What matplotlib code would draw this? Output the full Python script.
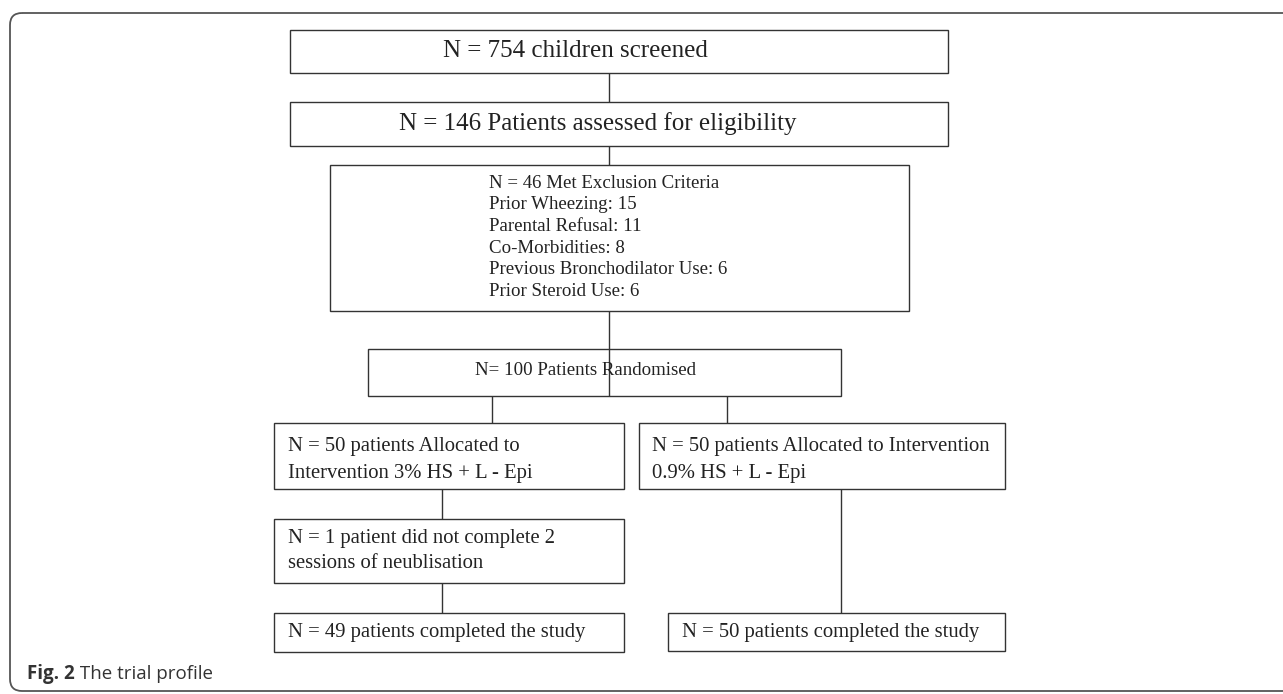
import matplotlib
matplotlib.use("Agg")
import matplotlib.pyplot as plt
from matplotlib.patches import Rectangle, FancyBboxPatch

# ---- data ----
screened = 754
assessed = 146
excluded = 46
exclusion_reasons = ["Prior Wheezing", "Parental Refusal", "Co-Morbidities",
                     "Previous Bronchodilator Use", "Prior Steroid Use"]
exclusion_counts = [15, 11, 8, 6, 6]
randomised = 100
arm_labels = ["3% HS + L - Epi", "0.9% HS + L - Epi"]
arm_allocated = [50, 50]
arm_dropout = [1, 0]
arm_completed = [49, 50]
caption_bold = "Fig. 2"
caption_text = " The trial profile"

W, H = 1283, 694
fig = plt.figure(figsize=(W / 100, H / 100), dpi=100)
ax = fig.add_axes([0, 0, 1, 1])
ax.set_xlim(0, W)
ax.set_ylim(H, 0)
ax.axis("off")

EC = "#333333"
SERIF = "Liberation Serif"

# outer frame
frame = FancyBboxPatch((10, 13), 1320, 678, boxstyle="round,pad=0,rounding_size=12",
                       fill=False, ec="#555555", lw=1.3)
ax.add_patch(frame)


def box(x0, y0, x1, y1):
    ax.add_patch(Rectangle((x0, y0), x1 - x0, y1 - y0, fill=False, ec=EC, lw=1.0))


def vline(x, y0, y1):
    ax.plot([x, x], [y0, y1], color=EC, lw=1.0, solid_capstyle="butt")


def lines(x, ys, texts, size):
    for y, t in zip(ys, texts):
        ax.text(x, y, t, ha="left", va="center", fontsize=size, family=SERIF, color="#222222")


# box 1 & 2
box(290, 30, 948, 73)
lines(443, [51], [f"N = {screened} children screened"], 18)
vline(609, 73, 102)
box(290, 102, 948, 146)
lines(399, [124], [f"N = {assessed} Patients assessed for eligibility"], 18)
vline(609, 146, 165)

# exclusion box
box(330, 165, 909, 311)
ex_lines = [f"N = {excluded} Met Exclusion Criteria"] + \
           [f"{r}: {c}" for r, c in zip(exclusion_reasons, exclusion_counts)]
lines(489, [183 + 21.7 * i for i in range(len(ex_lines))], ex_lines, 13.6)

# randomised
vline(609, 311, 396)
box(368, 349, 841, 396)
lines(475, [370], [f"N= {randomised} Patients Randomised"], 13.6)
vline(492, 396, 423)
vline(727, 396, 423)

# arm boxes
box(274, 423, 624, 489)
lines(288, [446, 473], [f"N = {arm_allocated[0]} patients Allocated to",
                        f"Intervention {arm_labels[0]}"], 14.9)
box(639, 423, 1005, 489)
lines(652, [446, 473], [f"N = {arm_allocated[1]} patients Allocated to Intervention",
                        arm_labels[1]], 14.9)

# dropout
vline(442, 489, 519)
box(274, 519, 624, 583)
lines(288, [539, 563], [f"N = {arm_dropout[0]} patient did not complete 2",
                        "sessions of neublisation"], 14.9)
vline(442, 583, 613)

# completed
box(274, 613, 624, 652)
lines(288, [633], [f"N = {arm_completed[0]} patients completed the study"], 14.9)
vline(841, 489, 613)
box(668, 613, 1005, 651)
lines(682, [633], [f"N = {arm_completed[1]} patients completed the study"], 14.9)

# caption
t1 = ax.text(27, 674, caption_bold, ha="left", va="center", fontsize=13.5,
             family="Open Sans", fontweight="bold", color="#333333")
fig.canvas.draw()
bb = t1.get_window_extent()
inv = ax.transData.inverted()
x_end = inv.transform((bb.x1, bb.y0))[0]
ax.text(x_end, 674, caption_text, ha="left", va="center", fontsize=13.5,
        family="Open Sans", color="#333333")

fig.savefig("out.png", dpi=100)
